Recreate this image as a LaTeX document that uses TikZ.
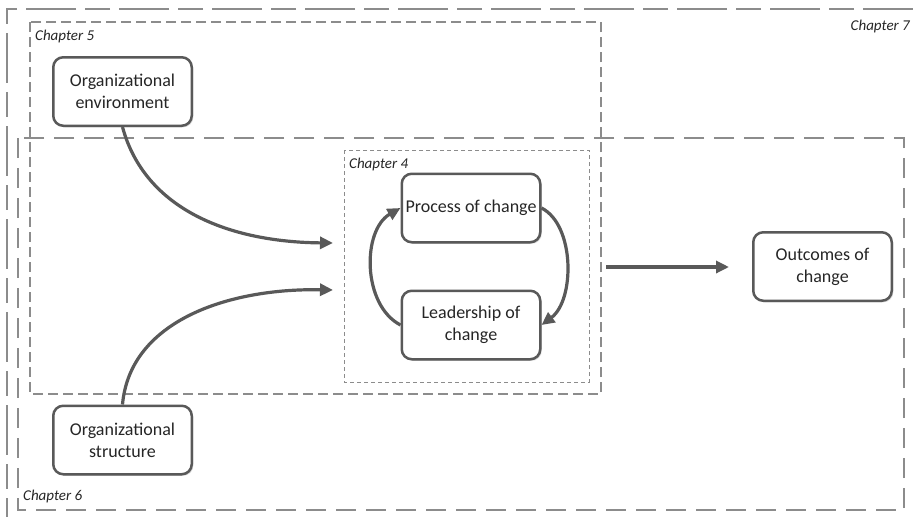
\documentclass[tikz,border=0pt]{standalone}
\usepackage{fontspec}
\setmainfont{Carlito}
\usetikzlibrary{arrows.meta,shadows}
\definecolor{boxline}{HTML}{595959}
\definecolor{dashgray}{HTML}{8C8C8C}
\definecolor{txt}{HTML}{262626}
\begin{document}
\begin{tikzpicture}[x=1pt,y=-1pt,
  chbox/.style={rounded corners=10pt, draw=boxline, line width=2.5pt, fill=white,
    minimum width=138.5pt, minimum height=68.5pt, align=center, inner sep=2pt,
    font=\fontsize{18}{22}\selectfont, text=txt,
    drop shadow={shadow xshift=1.5pt, shadow yshift=-1.5pt, fill=black!30, opacity=0.5}},
  conn/.style={draw=boxline, line width=3.2pt, -{Triangle[length=13pt,width=12pt]}},
  chlabel/.style={font=\fontsize{15}{18}\selectfont\itshape, text=txt, inner sep=0pt},
  chseven/.style={draw=dashgray, line width=1.5pt, dash pattern=on 50pt off 9pt on 25pt off 9pt},
  chsix/.style={draw=dashgray, line width=1.5pt, dash pattern=on 20pt off 10pt},
  chfive/.style={draw=dashgray, line width=1.3pt, dash pattern=on 10pt off 5pt},
  chfour/.style={draw=dashgray, line width=1pt, dash pattern=on 4pt off 3pt}]
\useasboundingbox (0,0) rectangle (913,517);
\fill[white] (0,0) rectangle (913,517);
% chapter frames
\draw[chseven] (913,9) -- (7,9) -- (7,517);
\draw[chsix] (18,138) rectangle (904,510);
\draw[chfive] (30,22) rectangle (601,394);
\draw[chfour] (344,150) rectangle (589,382);
% labels
\node[chlabel, anchor=west] (l5) at (35,36) {Chapter 5};
\node[chlabel, anchor=west] (l4) at (349,164) {Chapter 4};
\node[chlabel, anchor=west] (l6) at (23,496) {Chapter 6};
\node[chlabel, anchor=east] (l7) at (910,26) {Chapter 7};
% boxes
\node[chbox] (env) at (122.5,91.5) {Organizational\\environment};
\node[chbox] (str) at (122.5,440) {Organizational\\structure};
\node[chbox] (proc) at (471,208) {Process of change};
\node[chbox] (lead) at (471,325) {Leadership of\\change};
\node[chbox] (out) at (822.5,266.5) {Outcomes of\\change};
% connector ends
\coordinate (in1) at (333,243);
\coordinate (in2) at (333,290);
\coordinate (o1) at (606,267);
\coordinate (o2) at (729,267);
% connectors
\draw[conn] (env.south) .. controls (145,210) and (230,242) .. (in1);
\draw[conn] (str.north) .. controls (130,320) and (230,288) .. (in2);
\draw[conn] (lead.west) .. controls (362,305) and (362,230) .. (proc.west);
\draw[conn] (proc.east) .. controls (575,225) and (575,300) .. (lead.east);
\draw[conn] (o1) -- (o2);
\end{tikzpicture}
\end{document}
